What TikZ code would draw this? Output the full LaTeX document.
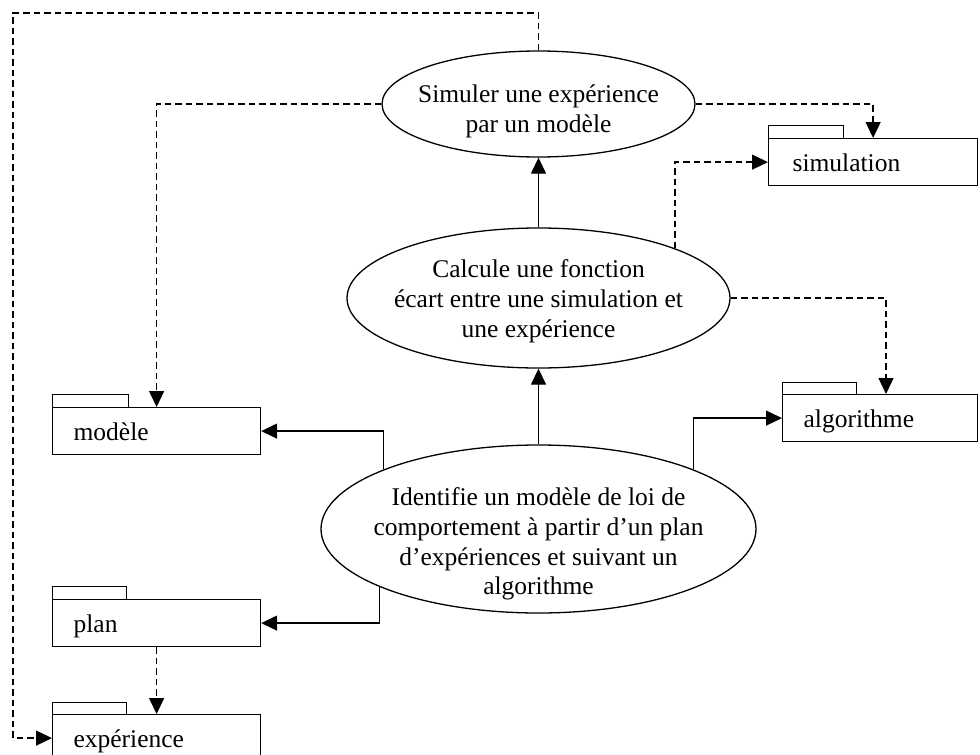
\documentclass[tikz,border=0pt]{standalone}
\usepackage{fontspec}
\setmainfont{Liberation Serif}
\usetikzlibrary{arrows.meta,shapes.geometric}
\begin{document}
\begin{tikzpicture}[x=1pt,y=-1pt,
  font=\fontsize{25.5}{29.8}\selectfont,
  ell/.style={draw,ellipse,line width=1.3pt,inner sep=0pt},
  txt/.style={align=center,inner sep=0pt},
  pkg/.style={draw,line width=1.2pt,rectangle,anchor=north west,minimum height=47pt,
    inner xsep=21pt,inner ysep=0pt,text height=21.5pt,text depth=2.5pt,align=left},
  tab/.style={draw,line width=1pt},
  solid arrow/.style={line width=1.3pt,-{Triangle[length=16pt,width=15pt]}},
  dash arrow/.style={line width=1.3pt,dash pattern=on 6.5pt off 4pt,-{Triangle[length=16pt,width=15pt]}}
]
\useasboundingbox (0,0) rectangle (980,755);

% ellipses
\node[ell,minimum width=313pt,minimum height=106pt] (e1) at (538.5,104) {};
\node[txt] (t1) at (538.5,111) {Simuler une expérience\\par un modèle};
\node[ell,minimum width=383pt,minimum height=140pt] (e2) at (538.5,298) {};
\node[txt] (t2) at (538.5,301) {Calcule une fonction\\écart entre une simulation et\\une expérience};
\node[ell,minimum width=435pt,minimum height=168pt] (e3) at (538.5,529) {};
\node[txt] (t3) at (538.5,544) {Identifie un modèle de loi de\\comportement à partir d’un plan\\d’expériences et suivant un\\algorithme};

% packages
\node[pkg,text width=166pt] (mod) at (52,407) {modèle};
\draw[tab] (mod.north west) rectangle ++(76,-13);
\node[pkg,text width=166pt] (plan) at (52,599) {plan};
\draw[tab] (plan.north west) rectangle ++(74,-13);
\node[pkg,text width=166pt] (exp) at (52,714) {expérience};
\draw[tab] (exp.north west) rectangle ++(74,-12);
\node[pkg,text width=161pt,inner xsep=24pt] (sim) at (768,138) {simulation};
\draw[tab] (sim.north west) rectangle ++(75,-13);
\node[pkg,text width=153pt] (alg) at (782,394) {algorithme};
\draw[tab] (alg.north west) rectangle ++(74,-12);

% solid connectors
\draw[solid arrow] (e3.north) -- (e2.south);
\draw[solid arrow] (e2.north) -- (e1.south);
\draw[solid arrow] (e3.159.3) |- (mod.east);
\draw[solid arrow] (e3.200.7) |- (plan.east);
\draw[solid arrow] (e3.21.2) |- (alg.west);

% dashed connectors
\coordinate (corner) at (13,13);
\draw[dash arrow] (e1.north) |- (corner) |- (exp.west);
\draw[dash arrow] (e1.west) -| (mod.north);
\draw[dash arrow] (e1.east) -| (sim.north);
\draw[dash arrow] (e2.20.07) |- (sim.west);
\draw[dash arrow] (e2.east) -| ([xshift=104pt]alg.north west);
\draw[dash arrow] (plan.south) -- (exp.north);
\end{tikzpicture}
\end{document}
